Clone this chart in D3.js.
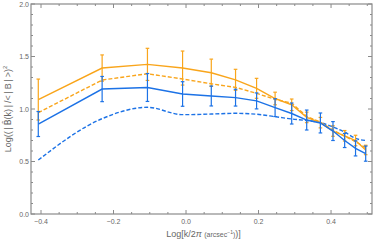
<!DOCTYPE html>
<html>
<head>
<meta charset="utf-8">
<script src="https://cdn.jsdelivr.net/npm/d3@7"></script>
<style>
  body { margin: 0; background: #fff; }
  text { font-family: "Liberation Sans", Arial, sans-serif; fill: #666; }
</style>
</head>
<body>
<div id="chart"></div>
<script>
// log k values (x)
const logK = [-0.4075, -0.2314, -0.1064, -0.0095, 0.0697, 0.1366, 0.1946, 0.2457,
              0.2915, 0.3329, 0.3707, 0.4054, 0.4376, 0.4676, 0.4956];

// orange, solid with error bars
const orangeSolid = [1.09, 1.39, 1.425, 1.39, 1.345, 1.278, 1.197, 1.10, 1.04, 0.92, 0.87, 0.79, 0.745, 0.70, 0.61];
const orangeErr   = [0.195, 0.125, 0.153, 0.162, 0.13, 0.10, 0.095, 0.06, 0.055, 0.05, 0.05, 0.05, 0.05, 0.05, 0.045];
// orange dashed
const orangeDash  = [0.965, 1.276, 1.336, 1.286, 1.24, 1.206, 1.149, 1.092, 1.055, 0.93, 0.875, 0.80, 0.74, 0.69, 0.63];
// blue, solid with error bars
const blueSolid   = [0.857, 1.19, 1.205, 1.143, 1.124, 1.108, 1.077, 1.013, 0.957, 0.895, 0.867, 0.79, 0.70, 0.625, 0.575];
const blueErr     = [0.119, 0.12, 0.133, 0.117, 0.095, 0.08, 0.076, 0.085, 0.10, 0.095, 0.095, 0.09, 0.067, 0.072, 0.072];
// blue dashed
const blueDash    = [0.514, 0.908, 1.016, 0.946, 0.952, 0.959, 0.95, 0.927, 0.905, 0.89, 0.87, 0.828, 0.78, 0.72, 0.70];

const xTicks = [-0.4, -0.2, 0.0, 0.2, 0.4];
const yTicks = [0.0, 0.5, 1.0, 1.5, 2.0];

const W = 374, H = 242;
const margin = { top: 4, right: 2, bottom: 28, left: 31 };
const orange = "#f9a51b", blue = "#1c72e6";

const svg = d3.select("#chart").append("svg")
    .attr("width", W).attr("height", H);

const x = d3.scaleLinear().domain([-0.4276, 0.513]).range([margin.left, W - margin.right]);
const y = d3.scaleLinear().domain([0, 2]).range([H - margin.bottom, margin.top]);

const x0 = x.range()[0], x1 = x.range()[1];
const y0 = y.range()[0], y1 = y.range()[1];

// ticks (inward, on all sides)
const xMinor = d3.range(-0.4, 0.5001, 0.05).filter(v => v >= x.domain()[0] && v <= x.domain()[1]);
const yMinor = d3.range(0, 2.0001, 0.1);
const tickCol = "#8a8a8a";
const tg = svg.append("g").attr("stroke", tickCol).attr("stroke-width", 1);

xMinor.forEach(v => {
  const major = xTicks.some(t => Math.abs(t - v) < 1e-6);
  const len = major ? 4 : 2;
  tg.append("line").attr("x1", x(v)).attr("x2", x(v)).attr("y1", y0).attr("y2", y0 - len);
  tg.append("line").attr("x1", x(v)).attr("x2", x(v)).attr("y1", y1).attr("y2", y1 + len);
});
yMinor.forEach(v => {
  const major = yTicks.some(t => Math.abs(t - v) < 1e-6);
  const len = major ? 4 : 2;
  tg.append("line").attr("x1", x0).attr("x2", x0 + len).attr("y1", y(v)).attr("y2", y(v));
  tg.append("line").attr("x1", x1).attr("x2", x1 - len).attr("y1", y(v)).attr("y2", y(v));
});

// frame
svg.append("rect")
    .attr("x", x0).attr("y", y1)
    .attr("width", x1 - x0).attr("height", y0 - y1)
    .attr("fill", "none").attr("stroke", tickCol).attr("stroke-width", 1.2);

// tick labels
svg.selectAll(".xl").data(xTicks).enter().append("text")
    .attr("x", d => x(d)).attr("y", y0 + 10)
    .attr("text-anchor", "middle").attr("font-size", 7)
    .text(d => d3.format(".1f")(d).replace("-", "\u2212"));
svg.selectAll(".yl").data(yTicks).enter().append("text")
    .attr("x", x0 - 2).attr("y", d => y(d) + 2.5)
    .attr("text-anchor", "end").attr("font-size", 7)
    .text(d => d3.format(".1f")(d));

// axis titles
const xt = svg.append("text")
    .attr("x", (x0 + x1) / 2 + 2).attr("y", H - 5)
    .attr("text-anchor", "middle").attr("font-size", 9);
xt.append("tspan").text("Log[k/2");
xt.append("tspan").attr("font-style", "italic").text("\u03c0 ");
xt.append("tspan").attr("font-size", 7).text("(arcsec");
xt.append("tspan").attr("font-size", 5).attr("dy", -3).text("\u22121");
xt.append("tspan").attr("font-size", 7).attr("dy", 3).text(")");
xt.append("tspan").text(")]");

const yt = svg.append("text")
    .attr("transform", `translate(11,${(y0 + y1) / 2}) rotate(-90)`)
    .attr("text-anchor", "middle").attr("font-size", 9);
yt.append("tspan").text("Log((\u2009|\u2009");
yt.append("tspan").attr("font-family", "DejaVu Sans").attr("font-size", 8.5).text("B\u0302");
yt.append("tspan").text("(k)\u2009|\u2009/<\u2009|\u2009B\u2009|\u2009>)");
yt.append("tspan").attr("font-size", 6).attr("dy", -4).text("2");

// series
const line = d3.line().x(d => x(d[0])).y(d => y(d[1]));
const smooth = d3.line().x(d => x(d[0])).y(d => y(d[1])).curve(d3.curveMonotoneX);

function pts(vals) { return logK.map((k, i) => [k, vals[i]]); }

const plot = svg.append("g");

plot.append("path").datum(pts(blueDash)).attr("d", smooth)
    .attr("fill", "none").attr("stroke", blue).attr("stroke-width", 1.4)
    .attr("stroke-dasharray", "4,2");
plot.append("path").datum(pts(orangeDash)).attr("d", line)
    .attr("fill", "none").attr("stroke", orange).attr("stroke-width", 1.4)
    .attr("stroke-dasharray", "4,2");

function errorBars(vals, errs, col) {
  const g = plot.append("g").attr("stroke", col).attr("stroke-width", 1.2);
  logK.forEach((k, i) => {
    const yt = y(vals[i] + errs[i]), yb = y(vals[i] - errs[i]), xc = x(k);
    g.append("line").attr("x1", xc).attr("x2", xc).attr("y1", yt).attr("y2", yb);
    g.append("line").attr("x1", xc - 1.8).attr("x2", xc + 1.8).attr("y1", yt).attr("y2", yt);
    g.append("line").attr("x1", xc - 1.8).attr("x2", xc + 1.8).attr("y1", yb).attr("y2", yb);
  });
}

errorBars(orangeSolid, orangeErr, orange);
plot.append("path").datum(pts(orangeSolid)).attr("d", line)
    .attr("fill", "none").attr("stroke", orange).attr("stroke-width", 1.4);

errorBars(blueSolid, blueErr, blue);
plot.append("path").datum(pts(blueSolid)).attr("d", line)
    .attr("fill", "none").attr("stroke", blue).attr("stroke-width", 1.4);
</script>
</body>
</html>
